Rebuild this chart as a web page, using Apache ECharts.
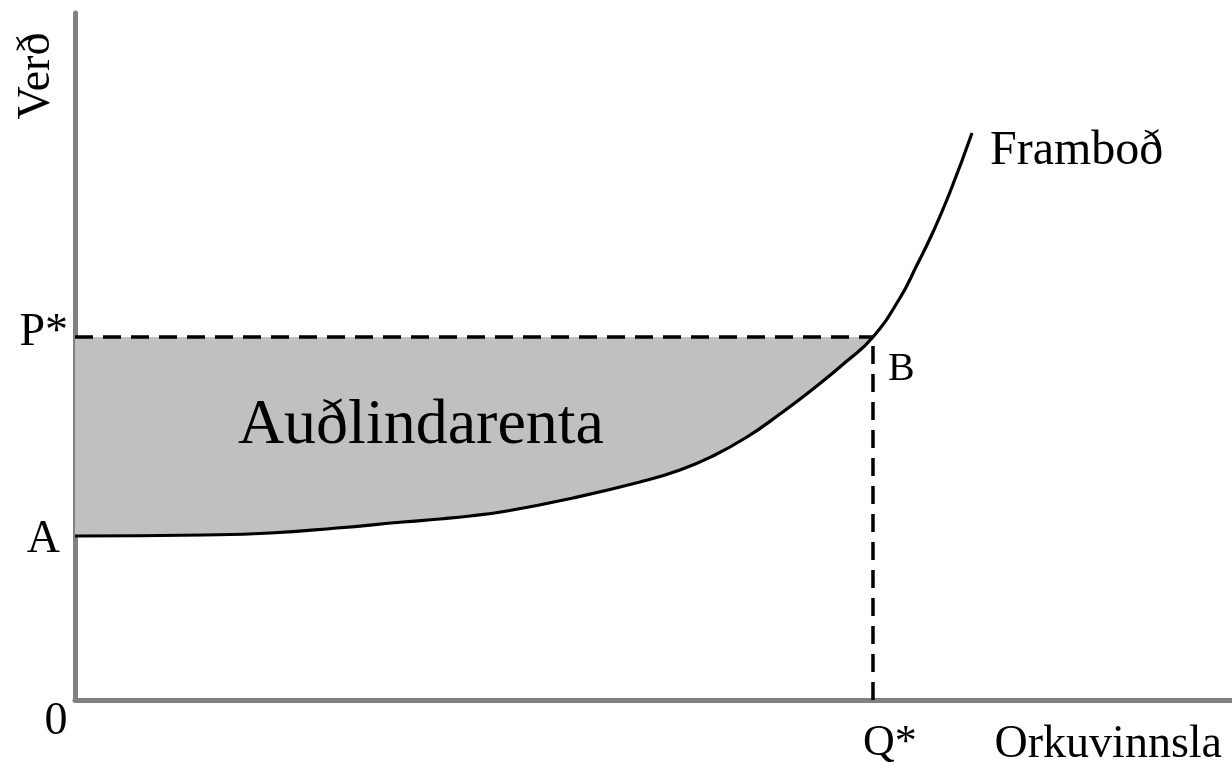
<!DOCTYPE html>
<html><head><meta charset="utf-8">
<script src="https://cdn.jsdelivr.net/npm/echarts@6/dist/echarts.min.js"></script>
<style>html,body{margin:0;padding:0;background:#fff}#c{width:1232px;height:763px}</style>
</head><body><div id="c"></div>
<script>
// Supply curve (quantity, price), axis units 0..100
const supplyX = [0, 11.06, 16.85, 22.64, 28.35, 31.55, 34.14, 37.34, 43.04, 48.83, 52.29, 55.14, 58.08, 60.93, 63.79, 66.72, 68.97, 71.30, 72.77, 74.16, 75.63, 77.53];
const supplyY = [23.87, 24.02, 24.31, 25.04, 25.91, 26.35, 26.78, 27.51, 29.40, 31.73, 33.48, 35.52, 38.28, 41.63, 45.27, 49.34, 52.84, 58.52, 63.32, 68.12, 73.94, 82.53];
const Q_STAR = 68.97;
const P_STAR = 52.84;
const A_LEVEL = 23.87;
const priceTickLabels = ['P*', 'A'];
const quantityTickLabels = ['0', 'Q*'];
const xAxisName = 'Orkuvinnsla';
const yAxisName = 'Verð';
const curveName = 'Framboð';
const areaName = 'Auðlindarenta';
const pointName = 'B';
const areaLabelAt = [29.9, 39.9];

const FONT = "'Liberation Serif','Times New Roman',Times,serif";

const curve = supplyX.map((x, i) => [x, supplyY[i]]);
const base = curve.filter(p => p[0] <= Q_STAR + 1e-9);

function lab(value, text, opts) {
  return {
    value: value,
    name: text,
    label: Object.assign({
      show: true, position: 'inside', formatter: text,
      color: '#000', opacity: 1, textBorderWidth: 0, textShadowBlur: 0,
      fontFamily: FONT, fontSize: 46,
      align: 'center', verticalAlign: 'middle'
    }, opts)
  };
}

const last = curve[curve.length - 1];
const labels = [
  lab([0, P_STAR], priceTickLabels[0], {align: 'right', offset: [-7, -4]}),
  lab([0, A_LEVEL], priceTickLabels[1], {align: 'right', offset: [-15, 4]}),
  lab([0, 0], quantityTickLabels[0], {offset: [-19, 22]}),
  lab([Q_STAR, 0], quantityTickLabels[1], {align: 'left', fontSize: 44, offset: [-10, 43]}),
  lab([100, 0], xAxisName, {align: 'right', offset: [-10, 45]}),
  lab([0, 100], yAxisName, {rotate: 90, offset: [-63, -38]}),
  lab(last, curveName, {align: 'left', fontSize: 48, offset: [18, 18]}),
  lab([Q_STAR, P_STAR], pointName, {align: 'left', fontSize: 40, offset: [15, 33]}),
  lab(areaLabelAt, areaName, {fontSize: 64})
];

const chart = echarts.init(document.getElementById('c'), null, {renderer: 'canvas'});
chart.setOption({
  animation: false,
  backgroundColor: '#fff',
  grid: {left: 75, right: 0, top: 13, bottom: 63, containLabel: false},
  xAxis: {
    type: 'value', min: 0, max: 100,
    axisLine: {show: true, onZero: false, lineStyle: {color: '#808080', width: 5}},
    axisTick: {show: false}, axisLabel: {show: false}, splitLine: {show: false}
  },
  yAxis: {
    type: 'value', min: 0, max: 100,
    axisLine: {show: true, onZero: false, lineStyle: {color: '#808080', width: 5}},
    axisTick: {show: false}, axisLabel: {show: false}, splitLine: {show: false}
  },
  series: [
    {
      type: 'line', data: base, smooth: 0.5, symbol: 'none',
      lineStyle: {opacity: 0},
      areaStyle: {color: '#c0c0c0', opacity: 1, origin: P_STAR}, z: 1, silent: true
    },
    {
      type: 'line', data: [[0, P_STAR], [Q_STAR, P_STAR]], symbol: 'none',
      lineStyle: {color: '#000', width: 3.5, type: [18, 10]}, z: 3
    },
    {
      type: 'line', data: [[Q_STAR, 0], [Q_STAR, P_STAR]], symbol: 'none',
      lineStyle: {color: '#000', width: 3.5, type: [18, 10]}, z: 3
    },
    {
      type: 'line', name: curveName, data: curve, smooth: 0.5, symbol: 'none',
      lineStyle: {color: '#000', width: 3.2}, z: 4
    },
    {
      type: 'scatter', data: labels, symbolSize: 1,
      itemStyle: {color: 'transparent'}, z: 5, silent: true, clip: false
    }
  ]
});
</script>
</body></html>
